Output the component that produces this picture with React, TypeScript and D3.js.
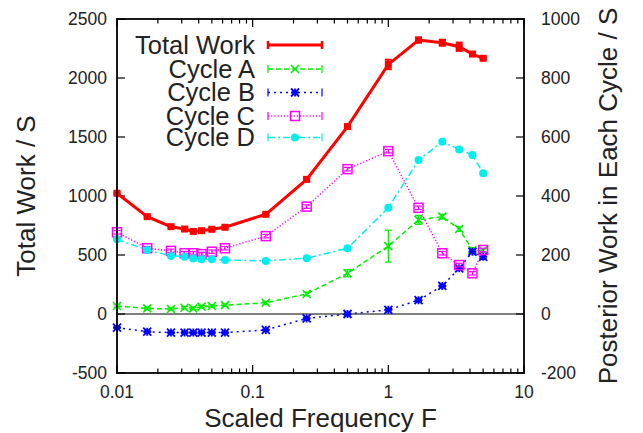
import React, { useEffect, useRef } from 'react';
import * as d3 from 'd3';

// Scaled frequency F (shared by every series)
const freq = [0.01, 0.0167, 0.025, 0.0315, 0.0365, 0.042, 0.05, 0.0625, 0.125, 0.25, 0.5, 1, 1.67, 2.5, 3.33, 4.17, 5];

// Total work (left axis)
const totalWork = [1023, 825, 740, 720, 700, 706, 718, 735, 845, 1141, 1588, 2115, 2322, 2299, 2265, 2203, 2167];
const totalErr = [8, 8, 8, 8, 8, 8, 8, 8, 10, 12, 18, 40, 20, 25, 35, 15, 10];

// Posterior work in each cycle (right axis)
const cycleA = [27, 19, 17, 21, 19, 25, 27, 30, 38, 68, 138, 230, 319, 330, 288, 217, 215];
const cycleAErr = [4, 4, 4, 4, 4, 4, 4, 4, 5, 6, 12, 54, 15, 8, 8, 8, 6];
const cycleB = [-46, -60, -63, -63, -63, -63, -63, -63, -54, -15, 0, 14, 47, 95, 155, 211, 194];
const cycleBErr = [3, 3, 3, 3, 3, 3, 3, 3, 3, 4, 4, 4, 5, 6, 6, 6, 6];
const cycleC = [277, 223, 214, 206, 206, 203, 211, 223, 264, 364, 491, 552, 360, 206, 166, 138, 217];
const cycleCErr = [6, 6, 6, 6, 6, 6, 6, 6, 6, 6, 6, 6, 6, 6, 6, 6, 6];
const cycleD = [253, 217, 197, 194, 188, 186, 186, 183, 180, 189, 223, 360, 522, 584, 558, 539, 477];
const cycleDErr = [3, 3, 3, 3, 3, 3, 3, 3, 3, 3, 3, 4, 5, 5, 5, 5, 5];

const xTicks = [0.01, 0.1, 1, 10];
const xTickLabels = ['0.01', '0.1', '1', '10'];
const yTicks = [-500, 0, 500, 1000, 1500, 2000, 2500];
const y2Ticks = [-200, 0, 200, 400, 600, 800, 1000];

type Marker = 'square' | 'cross' | 'star' | 'box' | 'circle';

interface Series {
  name: string;
  values: number[];
  errors: number[];
  color: string;
  dash: string | null;
  width: number;
  marker: Marker;
  axis: 'left' | 'right';
}

const series: Series[] = [
  { name: 'Total Work', values: totalWork, errors: totalErr, color: '#ff0000', dash: null, width: 3, marker: 'square', axis: 'left' },
  { name: 'Cycle A', values: cycleA, errors: cycleAErr, color: '#00ee00', dash: '5,3', width: 1.5, marker: 'cross', axis: 'right' },
  { name: 'Cycle B', values: cycleB, errors: cycleBErr, color: '#0000ff', dash: '2,4', width: 1.5, marker: 'star', axis: 'right' },
  { name: 'Cycle C', values: cycleC, errors: cycleCErr, color: '#ff00ff', dash: '1.2,2', width: 1.5, marker: 'box', axis: 'right' },
  { name: 'Cycle D', values: cycleD, errors: cycleDErr, color: '#00eeee', dash: '7,3,2,3', width: 1.5, marker: 'circle', axis: 'right' },
];

const W = 643;
const H = 433;
const FONT = '"Liberation Sans", Arial, Helvetica, sans-serif';

function drawMarker(g: d3.Selection<SVGGElement, unknown, null, undefined>, type: Marker, x: number, y: number, color: string) {
  if (type === 'square') {
    g.append('rect').attr('x', x - 3.5).attr('y', y - 3.5).attr('width', 7).attr('height', 7).attr('fill', color);
  } else if (type === 'cross') {
    const s = 4;
    g.append('path').attr('d', `M${x - s},${y - s}L${x + s},${y + s}M${x - s},${y + s}L${x + s},${y - s}`)
      .attr('stroke', color).attr('stroke-width', 1.5);
  } else if (type === 'star') {
    const s = 4;
    g.append('path').attr('d', `M${x - s},${y - s}L${x + s},${y + s}M${x - s},${y + s}L${x + s},${y - s}M${x - s},${y}L${x + s},${y}M${x},${y - s}L${x},${y + s}`)
      .attr('stroke', color).attr('stroke-width', 1.8);
  } else if (type === 'box') {
    g.append('rect').attr('x', x - 4.5).attr('y', y - 4.5).attr('width', 9).attr('height', 9)
      .attr('fill', 'none').attr('stroke', color).attr('stroke-width', 1.5);
  } else {
    g.append('circle').attr('cx', x).attr('cy', y).attr('r', 4).attr('fill', color);
  }
}

export default function App() {
  const svgRef = useRef<SVGSVGElement>(null);

  useEffect(() => {
    if (!svgRef.current) return;
    const svg = d3.select(svgRef.current);
    svg.selectAll('*').remove();

    const left = 117, right = 524, top = 19, bottom = 373;

    const x = d3.scaleLog().domain([0.01, 10]).range([left, right]);
    const y = d3.scaleLinear().domain([-500, 2500]).range([bottom, top]);
    const y2 = d3.scaleLinear().domain([-200, 1000]).range([bottom, top]);

    const root = svg.append('g');

    // zero line
    root.append('line')
      .attr('x1', left).attr('x2', right).attr('y1', y(0)).attr('y2', y(0))
      .attr('stroke', '#000').attr('stroke-width', 1);

    // ticks on x (bottom and top, inward)
    const minor: number[] = [];
    for (let dec = 0.01; dec < 10; dec *= 10) {
      for (let k = 2; k <= 9; k++) minor.push(dec * k);
    }
    const tickG = root.append('g').attr('stroke', '#000').attr('stroke-width', 1.2);
    xTicks.forEach(t => {
      tickG.append('line').attr('x1', x(t)).attr('x2', x(t)).attr('y1', bottom).attr('y2', bottom - 8);
      tickG.append('line').attr('x1', x(t)).attr('x2', x(t)).attr('y1', top).attr('y2', top + 8);
    });
    minor.forEach(t => {
      tickG.append('line').attr('x1', x(t)).attr('x2', x(t)).attr('y1', bottom).attr('y2', bottom - 4.5);
      tickG.append('line').attr('x1', x(t)).attr('x2', x(t)).attr('y1', top).attr('y2', top + 4.5);
    });
    yTicks.forEach(t => {
      tickG.append('line').attr('x1', left).attr('x2', left + 8).attr('y1', y(t)).attr('y2', y(t));
    });
    y2Ticks.forEach(t => {
      tickG.append('line').attr('x1', right).attr('x2', right - 8).attr('y1', y2(t)).attr('y2', y2(t));
    });

    // tick labels
    const labelG = root.append('g').attr('font-family', FONT).attr('font-size', 17.5).attr('fill', '#222');
    xTicks.forEach((t, i) => {
      labelG.append('text').attr('x', x(t)).attr('y', 398).attr('text-anchor', 'middle').text(xTickLabels[i]);
    });
    yTicks.forEach(t => {
      labelG.append('text').attr('x', 107).attr('y', y(t)).attr('dy', '0.35em').attr('text-anchor', 'end').text(String(t));
    });
    y2Ticks.forEach(t => {
      labelG.append('text').attr('x', 541).attr('y', y2(t)).attr('dy', '0.35em').attr('text-anchor', 'start').text(String(t));
    });

    // axis titles
    const titleG = root.append('g').attr('font-family', FONT).attr('font-size', 26).attr('fill', '#222');
    titleG.append('text').attr('x', (left + right) / 2).attr('y', 427).attr('text-anchor', 'middle').text('Scaled Frequency F');
    titleG.append('text').attr('transform', `translate(35,${(top + bottom) / 2}) rotate(-90)`)
      .attr('text-anchor', 'middle').text('Total Work / S');
    titleG.append('text').attr('transform', `translate(617,${(top + bottom) / 2}) rotate(-90)`)
      .attr('text-anchor', 'middle').text('Posterior Work in Each Cycle / S');

    // series (draw cycles first, total on top)
    const order = [...series.slice(1), series[0]];
    order.forEach(s => {
      const ys = s.axis === 'left' ? y : y2;
      const g = root.append('g');
      const line = d3.line<number>().x((_, i) => x(freq[i])).y(v => ys(v));
      g.append('path').datum(s.values).attr('d', line)
        .attr('fill', 'none').attr('stroke', s.color).attr('stroke-width', s.width)
        .attr('stroke-dasharray', s.dash);
      // error bars
      s.values.forEach((v, i) => {
        const cx = x(freq[i]);
        const y0 = ys(v - s.errors[i]);
        const y1 = ys(v + s.errors[i]);
        const eg = g.append('g').attr('stroke', s.color).attr('stroke-width', s.axis === 'left' ? 2 : 1.2);
        eg.append('line').attr('x1', cx).attr('x2', cx).attr('y1', y0).attr('y2', y1);
        eg.append('line').attr('x1', cx - 3.5).attr('x2', cx + 3.5).attr('y1', y0).attr('y2', y0);
        eg.append('line').attr('x1', cx - 3.5).attr('x2', cx + 3.5).attr('y1', y1).attr('y2', y1);
        drawMarker(g, s.marker, cx, ys(v), s.color);
      });
    });

    // legend
    const legY = [45, 69, 92.5, 116, 137.5];
    series.forEach((s, i) => {
      const ly = legY[i];
      const lg = root.append('g');
      lg.append('text').attr('x', 255).attr('y', ly).attr('dy', '0.35em')
        .attr('text-anchor', 'end').attr('font-family', FONT)
        .attr('font-size', 25.5).attr('fill', '#222').text(s.name);
      lg.append('line').attr('x1', 268).attr('x2', 322).attr('y1', ly).attr('y2', ly)
        .attr('stroke', s.color).attr('stroke-width', s.width).attr('stroke-dasharray', s.dash);
      [268, 322].forEach(ex => {
        lg.append('line').attr('x1', ex).attr('x2', ex).attr('y1', ly - 4).attr('y2', ly + 4)
          .attr('stroke', s.color).attr('stroke-width', s.axis === 'left' ? 2.5 : 1.2);
      });
      if (s.marker !== 'square') drawMarker(lg, s.marker, 295, ly, s.color);
    });

    // frame
    root.append('rect').attr('x', left).attr('y', top).attr('width', right - left).attr('height', bottom - top)
      .attr('fill', 'none').attr('stroke', '#000').attr('stroke-width', 1.8);
  }, []);

  return (
    <svg
      ref={svgRef}
      width={W}
      height={H}
      style={{ position: 'absolute', left: 0, top: 0, background: '#fff' }}
    />
  );
}
